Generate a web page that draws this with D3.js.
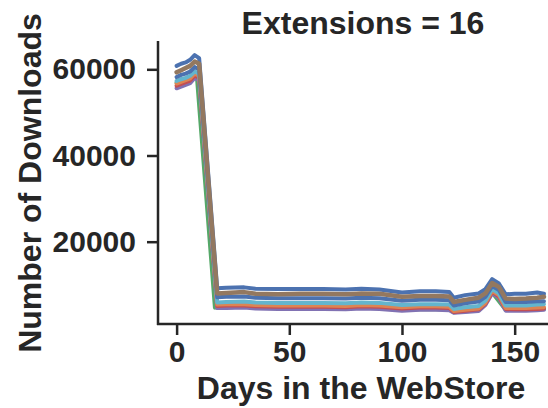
<!DOCTYPE html>
<html>
<head>
<meta charset="utf-8">
<script src="https://cdn.jsdelivr.net/npm/d3@7"></script>
<style>
  html, body { margin: 0; padding: 0; background: #fff; overflow: hidden; }
  svg { display: block; }
  text { font-family: "Liberation Sans", Arial, sans-serif; font-weight: bold; fill: #262626; }
</style>
</head>
<body>
<svg id="chart" width="548" height="408"></svg>
<script>
// ---- data ----
const titleText = "Extensions = 16";
const xLabel = "Days in the WebStore";
const yLabel = "Number of Downloads";
const xTicks = [0, 50, 100, 150];
const yTicks = [20000, 40000, 60000];

const days = [0, 2, 4, 6, 8, 10, 18, 22, 30, 35, 45, 55, 65, 75, 82, 90, 100, 108, 115, 121, 123, 128, 134, 137, 140, 143, 146, 150, 155, 160, 163];

const blueTop = [60800, 61300, 61600, 62200, 63300, 62600, 9200, 9300, 9400, 9100, 9000, 9000, 9000, 8900, 9100, 8900, 8200, 8500, 8500, 8300, 7000, 7600, 8000, 9000, 11300, 10300, 7800, 7900, 7900, 8200, 7900];
const brown   = [59300, 59800, 60300, 60800, 61800, 61300, 8000, 8100, 8300, 7900, 7800, 7900, 7900, 7800, 8000, 7900, 7200, 7400, 7400, 7300, 6000, 6500, 7000, 8000, 10400, 9500, 6800, 6700, 6800, 7000, 7200];
const blueMid = [58200, 58700, 59000, 59500, 60500, 60000, 7100, 7200, 7300, 7000, 6900, 6900, 6900, 6800, 7000, 6900, 6300, 6500, 6500, 6400, 5200, 5700, 6100, 7200, 9700, 8800, 6000, 6000, 6000, 6200, 6200];
const cyan    = [57300, 57700, 58000, 58500, 59500, 59000, 5900, 6000, 6100, 5900, 5800, 5800, 5800, 5700, 5900, 5800, 5300, 5500, 5500, 5400, 4400, 4800, 5100, 6300, 9000, 8000, 5200, 5200, 5200, 5400, 5500];
const orange  = [56700, 57100, 57500, 57900, 59000, 58500, 5400, 5500, 5500, 5300, 5200, 5200, 5200, 5100, 5300, 5200, 4800, 5000, 5000, 4900, 3900, 4200, 4500, 5800, 8600, 7600, 4600, 4600, 4600, 4700, 4800];
const red     = [56200, 56600, 57000, 57400, 58600, 58000, 5100, 5200, 5200, 5000, 4900, 4900, 4900, 4800, 5000, 4900, 4500, 4700, 4700, 4600, 3700, 4000, 4300, 5600, 8400, 7300, 4400, 4300, 4300, 4400, 4500];
const purple  = [55600, 56000, 56400, 56800, 58000, 57500, 4600, 4600, 4700, 4500, 4400, 4400, 4400, 4300, 4500, 4400, 4000, 4200, 4200, 4100, 3500, 3700, 3900, 5300, 8000, 7000, 4000, 4000, 4000, 4100, 4200];

const greenDays = [0, 2, 4, 6, 8, 9, 17, 22, 30, 45, 65, 90, 100, 121, 123, 134, 140, 146, 163];
const green     = [56900, 57300, 57600, 58000, 59200, 58300, 4700, 4800, 4900, 4700, 4700, 4700, 4300, 4400, 3600, 4100, 8200, 4200, 4400];

const seriesNames  = ["green", "purple", "red", "orange", "cyan", "blueMid", "blueTop", "brown"];
const seriesColors = ["#55a868", "#8172b3", "#c44e52", "#dd8452", "#64b5cd", "#4c72b0", "#4c72b0", "#937860"];

// ---- layout ----
const svg = d3.select("#chart");
const axisColor = "#262626";

const x = d3.scaleLinear().domain([-8.7, 171]).range([157, 562]);
const y = d3.scaleLinear().domain([900, 66570]).range([324, 41]);

const seriesData = {
  green: greenDays.map((d, i) => [d, green[i]]),
  purple: days.map((d, i) => [d, purple[i]]),
  red: days.map((d, i) => [d, red[i]]),
  orange: days.map((d, i) => [d, orange[i]]),
  cyan: days.map((d, i) => [d, cyan[i]]),
  blueMid: days.map((d, i) => [d, blueMid[i]]),
  blueTop: days.map((d, i) => [d, blueTop[i]]),
  brown: days.map((d, i) => [d, brown[i]])
};

const line = d3.line().x(d => x(d[0])).y(d => y(d[1]));

const g = svg.append("g");
seriesNames.forEach((name, i) => {
  g.append("path")
    .datum(seriesData[name])
    .attr("fill", "none")
    .attr("stroke", seriesColors[i])
    .attr("stroke-width", name === "brown" ? 4.5 : 4)
    .attr("stroke-linejoin", "round")
    .attr("stroke-linecap", "round")
    .attr("d", line);
});

// axes
const xAxis = svg.append("g")
  .attr("transform", "translate(0,324)")
  .call(d3.axisBottom(x).tickValues(xTicks).tickSize(11).tickPadding(6).tickFormat(d3.format("d")));
const yAxis = svg.append("g")
  .attr("transform", "translate(158,0)")
  .call(d3.axisLeft(y).tickValues(yTicks).tickSize(11).tickPadding(11).tickFormat(d3.format("d")));

[xAxis, yAxis].forEach(ax => {
  ax.select(".domain").attr("stroke", axisColor).attr("stroke-width", 2.5);
  ax.selectAll(".tick line").attr("stroke", axisColor).attr("stroke-width", 2.5);
  ax.selectAll(".tick text")
    .attr("fill", axisColor)
    .style("font-size", "30px")
    .style("font-family", "'Liberation Sans', Arial, sans-serif")
    .style("font-weight", "bold");
});
xAxis.selectAll(".domain").attr("d", "M157,0H562");
yAxis.selectAll(".domain").attr("d", "M0,41V325");

// title
svg.append("text")
  .attr("x", 363).attr("y", 34)
  .attr("text-anchor", "middle")
  .style("font-size", "32px")
  .text(titleText);

// x label
svg.append("text")
  .attr("x", 361).attr("y", 399)
  .attr("text-anchor", "middle")
  .style("font-size", "32px")
  .text(xLabel);

// y label
svg.append("text")
  .attr("transform", "translate(41,183) rotate(-90)")
  .attr("text-anchor", "middle")
  .style("font-size", "32px")
  .text(yLabel);
</script>
</body>
</html>
